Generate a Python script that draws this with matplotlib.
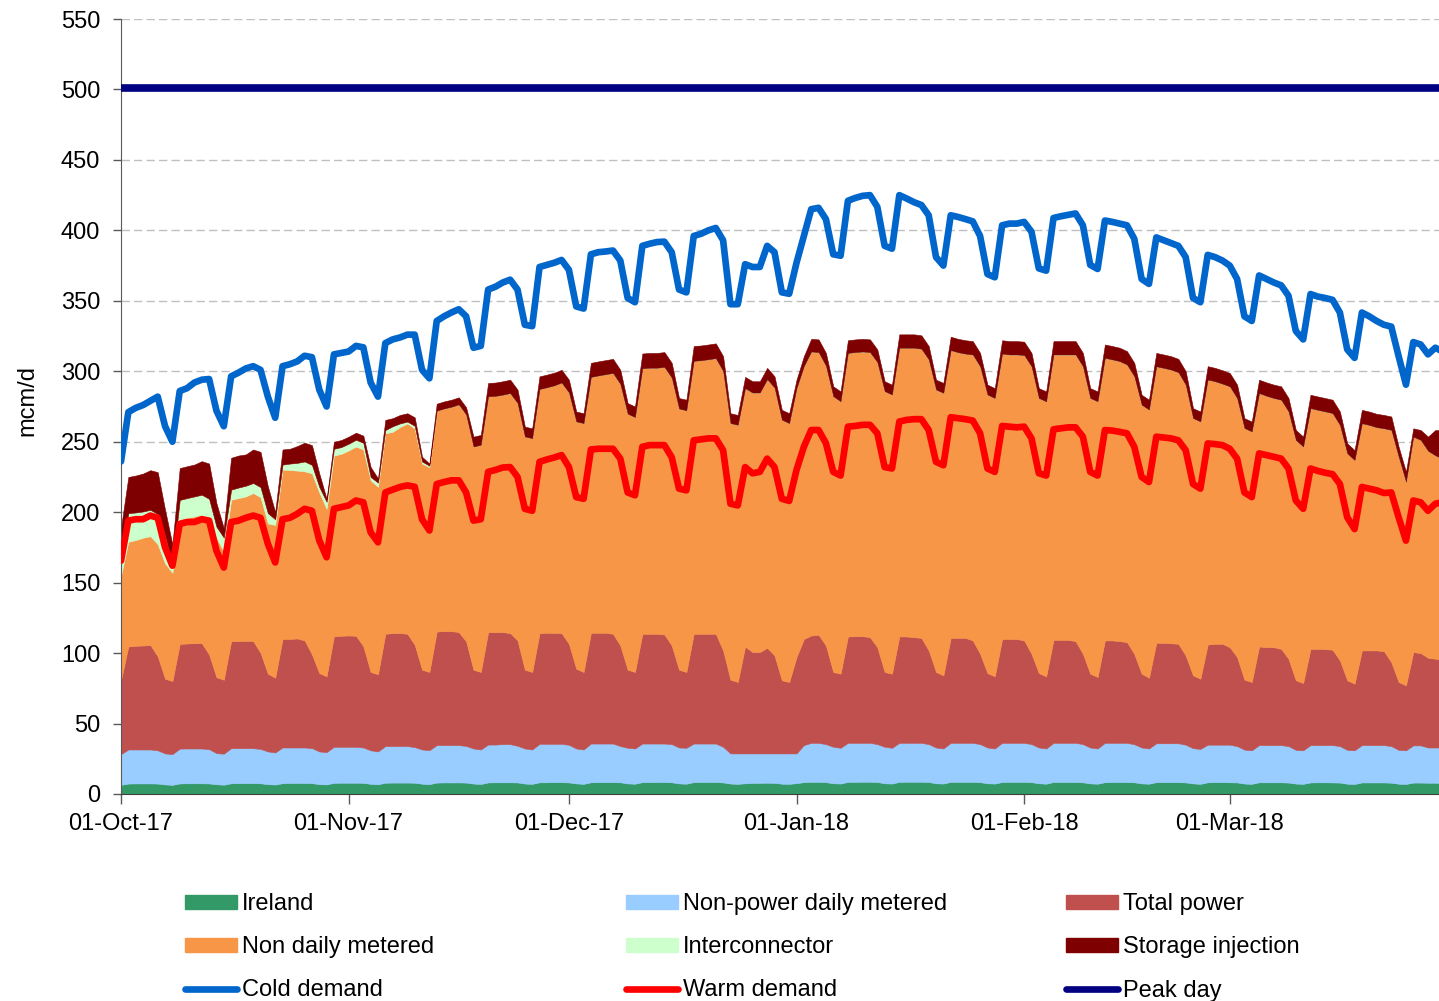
import matplotlib
matplotlib.use("Agg")
import matplotlib.pyplot as plt
import matplotlib.dates as mdates
from matplotlib.lines import Line2D
from matplotlib.patches import Patch
import numpy as np
import pandas as pd

plt.rcParams["font.family"] = ["Liberation Sans", "DejaVu Sans"]

# gas days from Sun 01-Oct-17; first value is that Sunday, then one row per Mon..Sun week
START = "2017-10-01"

ireland = [
    6.5,
    7.4, 7.5, 7.5, 7.5, 7.4, 6.8, 6.5,
    7.5, 7.6, 7.6, 7.6, 7.5, 6.9, 6.6,
    7.6, 7.7, 7.7, 7.7, 7.6, 7.0, 6.7,
    7.7, 7.8, 7.8, 7.8, 7.7, 7.0, 6.8,
    7.9, 8.0, 8.0, 8.0, 7.9, 7.2, 6.9,
    8.0, 8.1, 8.1, 8.1, 8.0, 7.3, 7.0,
    8.1, 8.2, 8.2, 8.2, 8.1, 7.4, 7.1,
    8.2, 8.3, 8.3, 8.3, 8.2, 7.4, 7.2,
    8.3, 8.3, 8.4, 8.4, 8.2, 7.5, 7.2,
    8.3, 8.4, 8.4, 8.4, 8.3, 7.5, 7.3,
    8.4, 8.4, 8.5, 8.5, 8.3, 7.5, 7.3,
    8.4, 8.5, 8.5, 8.5, 8.2, 7.4, 7.2,
    7.6, 7.8, 7.9, 8.0, 7.9, 7.3, 7.2,
    7.7, 8.4, 8.6, 8.6, 8.4, 7.6, 7.4,
    8.6, 8.6, 8.7, 8.7, 8.5, 7.6, 7.4,
    8.6, 8.7, 8.7, 8.7, 8.5, 7.6, 7.4,
    8.6, 8.6, 8.6, 8.6, 8.4, 7.6, 7.4,
    8.5, 8.6, 8.6, 8.6, 8.4, 7.6, 7.3,
    8.5, 8.5, 8.5, 8.5, 8.3, 7.5, 7.3,
    8.4, 8.5, 8.5, 8.4, 8.3, 7.5, 7.3,
    8.4, 8.4, 8.4, 8.4, 8.2, 7.5, 7.2,
    8.3, 8.4, 8.4, 8.3, 8.2, 7.4, 7.2,
    8.3, 8.3, 8.3, 8.3, 8.1, 7.4, 7.2,
    8.2, 8.3, 8.3, 8.2, 8.1, 7.3, 7.1,
    8.2, 8.2, 8.2, 8.2, 8.0, 7.3, 7.1,
    8.1, 8.1, 8.0, 8.0, 7.6, 7.2,
]

non_power_dm = [
    21.8,
    24.2, 24.1, 24.1, 24.1, 23.6, 22.0, 21.8,
    24.7, 24.7, 24.7, 24.7, 24.3, 22.1, 22.0,
    24.9, 24.8, 24.8, 24.8, 24.4, 23.2, 22.8,
    25.3, 25.2, 25.2, 25.2, 24.9, 23.2, 22.9,
    25.6, 25.5, 25.5, 25.5, 25.1, 23.8, 23.3,
    26.0, 25.9, 25.9, 25.9, 25.3, 24.3, 24.1,
    26.6, 26.5, 26.5, 26.5, 26.0, 24.9, 24.5,
    26.9, 26.8, 27.1, 27.1, 26.0, 24.9, 24.4,
    27.3, 27.3, 27.2, 27.2, 26.7, 24.8, 24.4,
    27.5, 27.4, 27.4, 27.4, 25.7, 25.3, 25.0,
    27.4, 27.4, 27.3, 27.3, 27.1, 25.5, 25.5,
    27.4, 27.3, 27.3, 27.3, 25.3, 21.4, 21.6,
    21.2, 21.0, 20.9, 20.8, 20.9, 21.5, 21.6,
    21.1, 26.3, 27.7, 27.7, 27.0, 25.9, 25.4,
    27.7, 27.7, 27.6, 27.6, 26.9, 25.9, 25.4,
    27.7, 27.6, 27.6, 27.6, 26.9, 25.4, 24.9,
    27.7, 27.7, 27.7, 27.7, 27.0, 25.4, 24.9,
    27.8, 27.7, 27.7, 27.7, 27.0, 25.4, 25.0,
    27.8, 27.8, 27.8, 27.8, 27.1, 25.5, 25.0,
    27.9, 27.8, 27.8, 27.9, 27.0, 25.5, 25.0,
    27.6, 27.6, 27.6, 27.6, 26.8, 25.0, 24.8,
    26.7, 26.6, 26.6, 26.7, 25.8, 24.1, 23.8,
    26.4, 26.4, 26.4, 26.4, 25.9, 23.9, 23.8,
    26.5, 26.4, 26.4, 26.5, 25.9, 24.0, 23.9,
    26.5, 26.5, 26.5, 26.5, 26.0, 24.0, 23.9,
    26.4, 26.4, 25.0, 25.0, 25.4, 23.8,
]

total_power = [
    52.4,
    73.1, 73.6, 73.8, 74.1, 66.7, 53.0, 51.9,
    74.3, 74.5, 74.7, 74.7, 67.2, 53.9, 52.5,
    76.0, 76.0, 76.2, 76.0, 68.2, 55.2, 53.0,
    77.0, 77.0, 77.4, 76.0, 66.5, 55.6, 53.8,
    78.5, 78.8, 79.0, 78.8, 71.9, 55.6, 54.8,
    79.7, 80.2, 80.2, 79.7, 72.6, 56.6, 55.5,
    80.6, 80.9, 80.9, 80.2, 74.3, 55.9, 55.0,
    79.8, 79.8, 79.5, 78.8, 74.8, 55.9, 55.0,
    78.6, 78.8, 78.8, 78.6, 71.7, 56.6, 55.0,
    78.6, 78.6, 78.6, 77.9, 71.4, 55.4, 54.3,
    77.9, 77.9, 77.9, 77.4, 70.0, 55.2, 53.8,
    77.9, 77.9, 77.9, 77.9, 68.4, 52.3, 50.7,
    75.9, 71.9, 71.9, 75.0, 69.5, 51.9, 50.7,
    68.4, 75.3, 76.2, 76.7, 70.0, 53.1, 52.6,
    75.5, 75.7, 75.7, 75.0, 68.8, 53.1, 52.6,
    75.5, 75.5, 75.0, 74.5, 66.5, 53.6, 51.9,
    74.5, 74.5, 74.5, 72.7, 64.1, 52.8, 51.2,
    73.7, 73.7, 73.7, 72.7, 64.1, 52.8, 51.2,
    73.1, 73.1, 73.1, 72.2, 64.1, 52.4, 50.7,
    72.7, 72.7, 72.2, 71.5, 64.1, 52.4, 50.2,
    71.3, 71.3, 71.0, 70.6, 63.3, 51.7, 49.8,
    71.1, 71.6, 71.6, 69.2, 63.2, 49.6, 48.5,
    70.0, 69.5, 69.5, 68.3, 62.0, 49.4, 47.8,
    68.3, 68.3, 68.1, 67.7, 60.8, 49.4, 47.3,
    67.2, 67.2, 67.2, 66.7, 59.6, 48.2, 46.1,
    66.2, 65.5, 63.7, 63.0, 62.3, 49.0,
]

non_daily_metered = [
    74.3,
    74.3, 75.0, 76.5, 77.3, 79.6, 81.9, 76.8,
    88.4, 89.2, 90.0, 91.0, 97.5, 99.0, 90.9,
    100.3, 101.5, 102.5, 105.1, 110.5, 106.6, 108.5,
    120.2, 120.0, 119.1, 120.0, 128.5, 128.2, 118.9,
    128.2, 129.1, 131.3, 134.3, 139.6, 136.0, 133.0,
    142.3, 142.8, 146.3, 149.3, 153.4, 146.3, 145.4,
    156.7, 158.0, 159.2, 161.6, 161.0, 158.4, 161.2,
    167.3, 167.6, 168.5, 170.3, 168.5, 165.5, 165.9,
    173.2, 174.2, 175.6, 177.8, 178.4, 175.5, 176.6,
    181.6, 182.6, 183.5, 185.1, 185.6, 181.7, 180.9,
    188.4, 188.8, 188.8, 189.9, 190.1, 185.3, 185.7,
    193.7, 194.1, 194.8, 195.6, 198.3, 182.1, 182.5,
    183.3, 184.2, 184.2, 190.6, 190.1, 184.9, 183.7,
    190.8, 193.7, 201.5, 200.6, 198.6, 195.7, 193.3,
    201.2, 201.6, 202.0, 202.3, 202.3, 199.3, 198.1,
    204.9, 204.9, 205.4, 205.2, 206.5, 200.4, 200.5,
    204.2, 202.7, 201.7, 202.9, 204.0, 197.7, 197.5,
    202.5, 201.9, 201.9, 202.5, 204.0, 195.2, 195.2,
    202.5, 202.5, 202.5, 203.4, 204.0, 195.6, 195.7,
    200.5, 199.4, 198.7, 197.0, 197.0, 190.9, 190.3,
    196.2, 195.1, 194.2, 192.7, 192.2, 182.6, 182.6,
    188.0, 186.3, 184.6, 185.1, 183.8, 178.6, 177.8,
    179.8, 178.4, 176.8, 176.8, 175.5, 170.6, 167.8,
    170.8, 169.6, 168.7, 167.9, 167.1, 161.1, 158.7,
    161.2, 160.0, 158.4, 158.1, 164.8, 159.9, 144.5,
    152.8, 151.3, 146.9, 144.3, 142.7, 155.0,
]

interconnector = [
    12.0,
    20.3, 19.6, 18.6, 18.7, 21.4, 20.0, 6.0,
    13.8, 14.0, 14.2, 14.4, 13.0, 7.8, 10.0,
    7.2, 7.5, 7.6, 7.1, 7.1, 7.3, 4.0,
    3.6, 4.5, 5.5, 7.0, 6.0, 4.0, 5.0,
    4.8, 4.8, 4.8, 4.8, 4.8, 2.4, 3.0,
    2.3, 4.0, 2.5, 1.3, 2.0, 1.5, 1.0,
    0, 0, 0, 0, 0, 0, 0,
    0, 0, 0, 0, 0, 0, 0,
    0, 0, 0, 0, 0, 0, 0,
    0, 0, 0, 0, 0, 0, 0,
    0, 0, 0, 0, 0, 0, 0,
    0, 0, 0, 0, 0, 0, 0,
    0, 0, 0, 0, 0, 0, 0,
    0, 0, 0, 0, 0, 0, 0,
    0, 0, 0, 0, 0, 0, 0,
    0, 0, 0, 0, 0, 0, 0,
    0, 0, 0, 0, 0, 0, 0,
    0, 0, 0, 0, 0, 0, 0,
    0, 0, 0, 0, 0, 0, 0,
    0, 0, 0, 0, 0, 0, 0,
    0, 0, 0, 0, 0, 0, 0,
    0, 0, 0, 0, 0, 0, 0,
    0, 0, 0, 0, 0, 0, 0,
    0, 0, 0, 0, 0, 0, 0,
    0, 0, 0, 0, 0, 0, 0,
    0, 0, 0, 0, 0, 0,
]

storage_injection = [
    22.0,
    25.7, 26.2, 26.9, 28.1, 29.7, 18.0, 14.0,
    22.6, 22.6, 22.6, 23.8, 25.0, 16.6, 6.6,
    22.6, 22.7, 22.2, 23.8, 25.0, 19.0, 5.0,
    10.7, 10.5, 11.9, 13.3, 14.0, 9.5, 2.0,
    5.0, 5.0, 5.0, 5.0, 5.0, 7.0, 3.0,
    7.2, 5.7, 6.0, 5.9, 6.0, 3.3, 1.5,
    5.0, 5.0, 5.0, 5.0, 5.0, 7.0, 7.0,
    9.5, 9.5, 9.5, 9.5, 9.5, 7.0, 7.0,
    9.0, 9.0, 9.0, 9.0, 9.0, 7.0, 7.0,
    10.0, 10.0, 10.0, 10.0, 10.0, 7.5, 7.5,
    10.5, 10.5, 10.5, 10.5, 10.5, 7.5, 7.5,
    10.5, 10.5, 10.5, 10.5, 10.5, 7.0, 7.0,
    8.0, 8.0, 8.0, 8.0, 8.0, 7.0, 7.0,
    6.0, 7.0, 9.0, 9.0, 9.0, 7.0, 7.0,
    9.0, 9.0, 9.0, 9.0, 9.0, 7.0, 7.0,
    9.5, 9.5, 9.5, 9.5, 9.5, 7.0, 7.0,
    9.5, 9.5, 9.5, 9.5, 9.5, 7.0, 7.0,
    9.5, 9.5, 9.5, 9.5, 9.5, 7.0, 7.0,
    9.5, 9.5, 9.5, 9.5, 9.5, 7.0, 7.0,
    9.5, 9.5, 9.5, 9.5, 9.5, 7.0, 7.0,
    9.5, 9.5, 9.5, 9.5, 9.5, 7.0, 7.0,
    9.5, 9.5, 9.5, 9.5, 9.5, 7.0, 7.0,
    9.5, 9.5, 9.5, 9.5, 9.5, 7.0, 7.0,
    9.5, 9.5, 9.5, 9.5, 9.5, 7.0, 7.0,
    9.5, 9.5, 9.5, 9.5, 9.5, 7.0, 7.0,
    6.0, 7.0, 10.0, 18.0, 20.0, 15.0,
]

cold_demand = [
    236,
    271, 274, 276, 279, 282, 261, 250,
    286, 288, 292, 294, 294.5, 272, 261,
    296.4, 299, 302, 303.6, 301, 282, 267,
    303.6, 305, 307, 311, 310, 287, 275,
    312, 313, 314, 318, 317, 292, 282,
    320, 322.6, 324, 326, 326, 301, 295,
    335.7, 339, 341.7, 344, 339, 316.7, 318,
    358, 360, 363, 365, 358, 333, 332,
    374, 375.5, 377, 379, 372, 346, 344.5,
    383, 384.5, 385, 385.7, 378.6, 352, 349,
    389, 390.5, 391.7, 392, 384.5, 358, 356,
    396, 397.6, 400, 401.7, 393, 347.6, 347.6,
    376, 374, 374, 389, 384.5, 356, 355,
    377, 396, 415, 416, 408, 383, 382,
    421, 423, 424.5, 425, 416.7, 389, 387,
    425, 422.6, 420, 418, 410.7, 381, 375,
    410.7, 409.5, 408, 406.4, 396, 369, 366.7,
    403.6, 404.8, 404.8, 406, 399, 373, 371.4,
    408.8, 410, 411, 412, 403.6, 375.5, 372.6,
    407, 406, 404.8, 403.6, 394, 365.5, 362,
    395, 393, 391, 389, 381, 352, 349,
    382.6, 381, 378.6, 375, 365.5, 339, 335.7,
    368, 365.5, 363, 361, 353.6, 328.6, 322.6,
    354.8, 353, 352, 350.7, 341.7, 315.5, 309.5,
    341.7, 339, 335.7, 333, 331.7, 310.7, 290.5,
    320.7, 319, 312, 316.7, 314, 300,
]

warm_demand = [
    165.5,
    194, 195, 195, 197.6, 196, 175, 162,
    191.7, 193, 193, 195, 194, 172.6, 160.7,
    193, 194, 196, 197.6, 196, 177.6, 164.3,
    195, 196, 198.8, 202.4, 201, 180, 168,
    202.4, 203.6, 204.8, 208.3, 207, 185.7, 178.6,
    214, 216, 217.9, 219, 218, 195, 187,
    220, 221.4, 222.6, 222.6, 214, 194, 195,
    228.6, 230, 231.7, 232, 225, 202.4, 201,
    235.7, 237.4, 238.8, 240.5, 232, 210.7, 209.5,
    244.5, 245, 245, 245, 238, 214, 212,
    246.4, 247.6, 247.6, 247.6, 239, 216.7, 215.5,
    251, 251.7, 252.4, 252.4, 244, 206, 204.8,
    232, 227.6, 228.6, 238, 232, 209.5, 208,
    230, 246.4, 258.3, 258.3, 249, 228.6, 226,
    260.7, 261.2, 262, 262, 256, 232, 231,
    264.3, 265.5, 266, 266, 258.3, 235.7, 233.3,
    267.4, 266.7, 266, 265, 256, 231, 228.6,
    261.2, 260.7, 260.2, 260.7, 252.4, 227.6, 226,
    258.8, 259.5, 260.2, 260.2, 253.6, 228.6, 226,
    258.3, 257.9, 257, 256, 246.4, 225, 221.4,
    253.6, 253, 252.4, 251, 244, 220, 216.7,
    248.8, 248.3, 247.6, 245, 238, 214, 210.7,
    241.7, 240.5, 239.3, 238, 231, 208.3, 202.4,
    231, 229.3, 228, 227, 220, 196.4, 188,
    217.9, 216.7, 215.5, 213.6, 214, 196.4, 179.8,
    208.3, 207, 201, 206, 207, 195,
]

PEAK_DAY = 501

area_labels = ["Ireland", "Non-power daily metered", "Total power",
               "Non daily metered", "Interconnector", "Storage injection"]
area_colours = ["#339966", "#99CCFF", "#C0504D", "#F79646", "#CCFFCC", "#7F0000"]

days = pd.date_range(START, periods=len(cold_demand), freq="D")

fig = plt.figure(figsize=(14.39, 10.01), dpi=100)
ax = fig.add_axes([121 / 1439, 207 / 1001, 1318 / 1439, 775 / 1001])

layers = [ireland, non_power_dm, total_power, non_daily_metered,
          interconnector, storage_injection]
polys = ax.stackplot(days, *layers, colors=area_colours, linewidth=0, zorder=2)
for p, c in zip(polys, area_colours):
    p.set_edgecolor(c)
    p.set_linewidth(0.4)

line_kw = dict(lw=4.8, solid_joinstyle="round", solid_capstyle="round", zorder=4)
ax.plot(days, cold_demand, color="#0066CC", **line_kw)
ax.plot(days, warm_demand, color="#FF0000", **line_kw)
ax.axhline(PEAK_DAY, color="#000080", lw=5.5, zorder=4)

ax.set_xlim(days[0], days[0] + pd.Timedelta(days=179.5))
ax.set_ylim(0, 550)
ax.set_yticks(np.arange(0, 551, 50))
ax.xaxis.set_major_locator(mdates.MonthLocator())
ax.xaxis.set_major_formatter(mdates.DateFormatter("%d-%b-%y"))
ax.tick_params(axis="both", labelsize=17, labelcolor="black", color="#595959")
ax.tick_params(axis="y", length=6, width=1, pad=9)
ax.tick_params(axis="x", length=7, width=1, pad=7)
ax.grid(axis="y", color="#C0C0C0", lw=1.0, linestyle=(0, (6, 3)))
ax.set_axisbelow(True)
for s in ("top", "right"):
    ax.spines[s].set_visible(False)
ax.spines["left"].set_color("#595959")
ax.spines["bottom"].set_color("#404040")

fig.text(27 / 1439, (1001 - 401) / 1001, "mcm/d", rotation=90,
         ha="center", va="center", fontsize=17)

# legend in three separate columns, as laid out in the source
def area_handle(i):
    return Patch(facecolor=area_colours[i], edgecolor=area_colours[i], label=area_labels[i])

def line_handle(colour, label):
    return Line2D([], [], color=colour, lw=4.8, solid_capstyle="round", label=label)

columns = [
    (185, [area_handle(0), area_handle(3), line_handle("#0066CC", "Cold demand")]),
    (626, [area_handle(1), area_handle(4), line_handle("#FF0000", "Warm demand")]),
    (1066, [area_handle(2), area_handle(5), line_handle("#000080", "Peak day")]),
]
for x, handles in columns:
    fig.legend(handles=handles, loc="upper left",
               bbox_to_anchor=(x / 1439, (1001 - 893) / 1001),
               frameon=False, fontsize=17, handlelength=2.2, handleheight=0.55,
               handletextpad=0.2, labelspacing=0.9, borderpad=0, borderaxespad=0)

fig.savefig("out.png", dpi=100)
